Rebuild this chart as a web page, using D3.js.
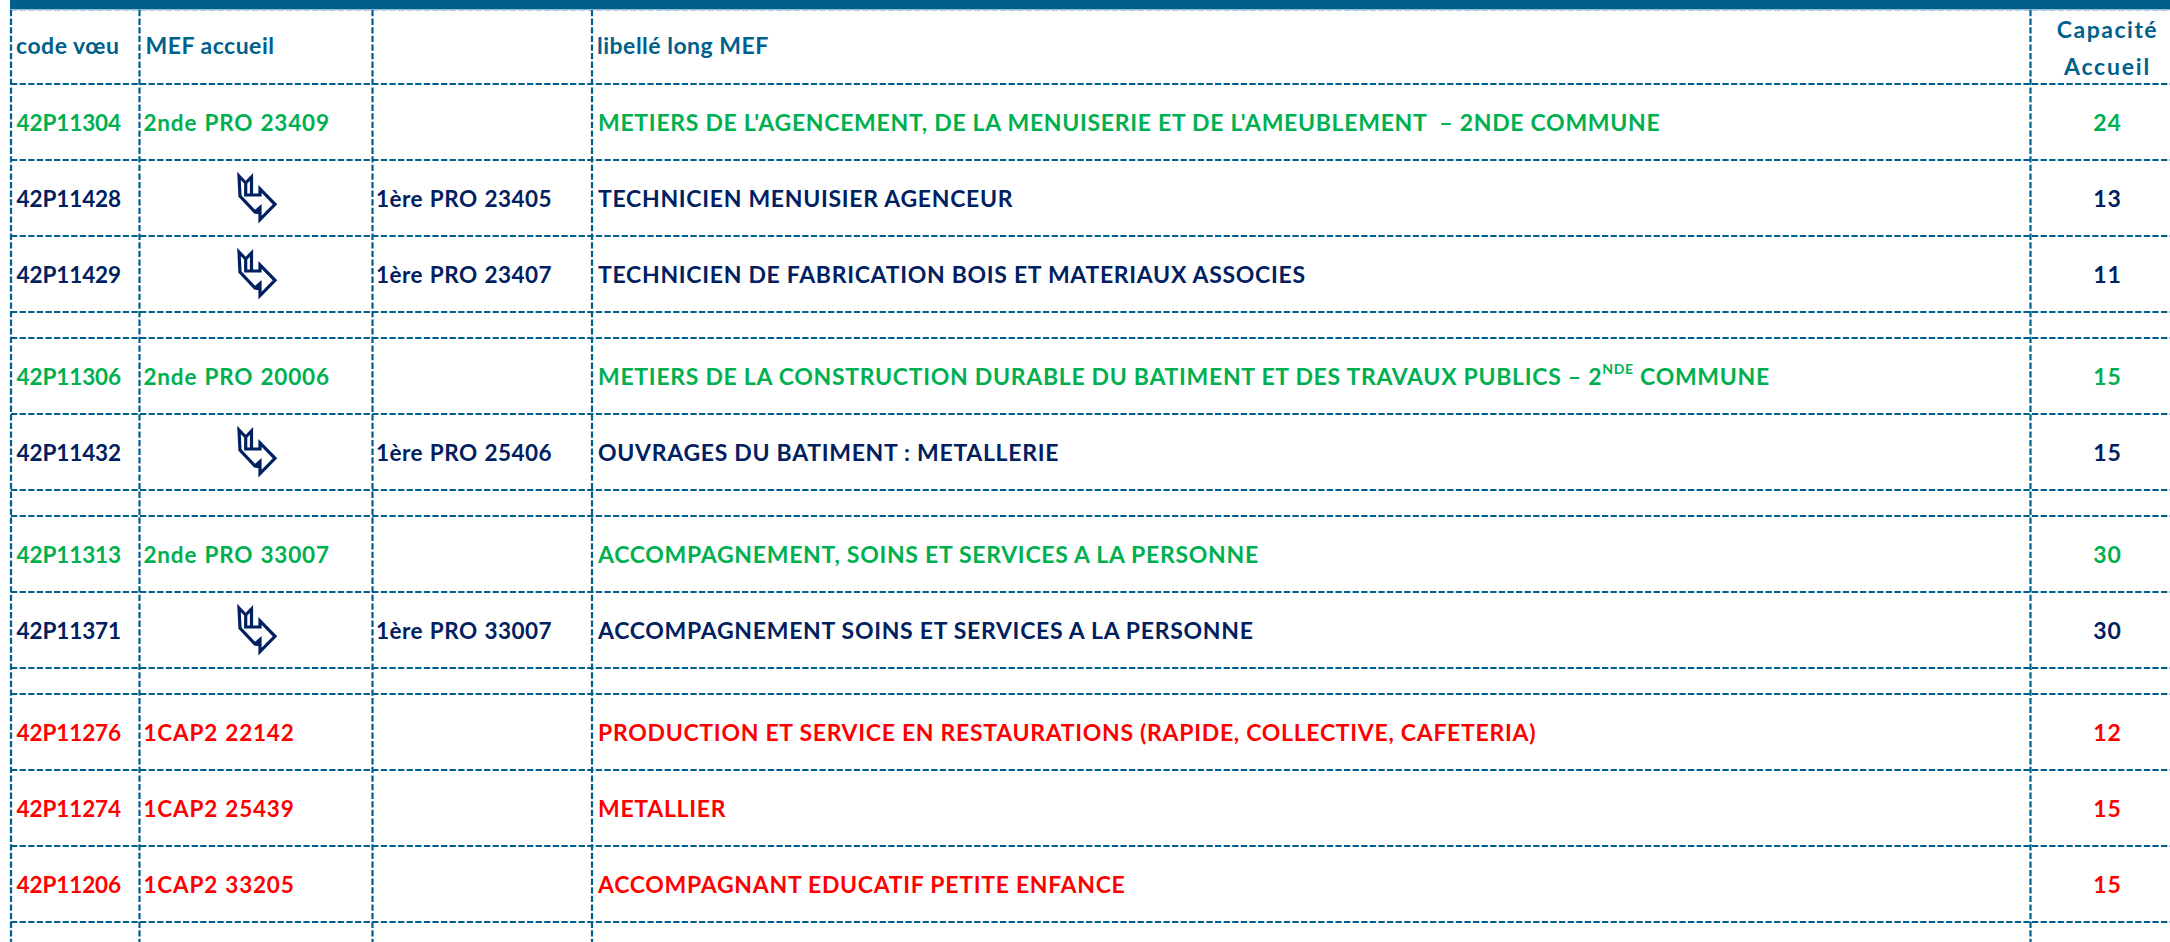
<!DOCTYPE html>
<html><head><meta charset="utf-8">
<script src="https://cdn.jsdelivr.net/npm/d3@7"></script>
<style>html,body{margin:0;padding:0;background:#fff}svg{display:block}</style>
</head><body><div id="c"></div>
<script>
const headers = ["code vœu","MEF accueil","","libellé long MEF"];
const capHeader = ["Capacité","Accueil"];
const rowKinds = ["r","r","r","s","r","r","s","r","r","s","r","r","r","s"];
const codes = ["42P11304","42P11428","42P11429",null,"42P11306","42P11432",null,"42P11313","42P11371",null,"42P11276","42P11274","42P11206",null];
const mefAccueil = ["2nde PRO 23409",null,null,null,"2nde PRO 20006",null,null,"2nde PRO 33007",null,null,"1CAP2 22142","1CAP2 25439","1CAP2 33205",null];
const mefFirst = [null,"1ère PRO 23405","1ère PRO 23407",null,null,"1ère PRO 25406",null,null,"1ère PRO 33007",null,null,null,null,null];
const labels = ["METIERS DE L'AGENCEMENT, DE LA MENUISERIE ET DE L'AMEUBLEMENT  – 2NDE COMMUNE","TECHNICIEN MENUISIER AGENCEUR","TECHNICIEN DE FABRICATION BOIS ET MATERIAUX ASSOCIES",null,"METIERS DE LA CONSTRUCTION DURABLE DU BATIMENT ET DES TRAVAUX PUBLICS – 2|NDE| COMMUNE","OUVRAGES DU BATIMENT : METALLERIE",null,"ACCOMPAGNEMENT, SOINS ET SERVICES A LA PERSONNE","ACCOMPAGNEMENT SOINS ET SERVICES A LA PERSONNE",null,"PRODUCTION ET SERVICE EN RESTAURATIONS (RAPIDE, COLLECTIVE, CAFETERIA)","METALLIER","ACCOMPAGNANT EDUCATIF PETITE ENFANCE",null];
const capacities = [24,13,11,null,15,15,null,30,30,null,12,15,15,null];
const groups = ["g","n","n",null,"g","n",null,"g","n",null,"x","x","x",null];

const W=2170,H=942, BLUE="#005f8b";
const colorOf=d3.scaleOrdinal().domain(["g","n","x"]).range(["#00b050","#002060","#ff0000"]);
const FONT="Lato, 'Open Sans', sans-serif";
const svg=d3.select("#c").append("svg").attr("width",W).attr("height",H).style("font-family",FONT);

const colX=[11,139.5,372.5,592,2030.5];
const unit={h:74,r:76,s:26};
const yStart=10;
let cum=[0,unit.h]; rowKinds.forEach(k=>cum.push(cum[cum.length-1]+unit[k]));
const y=d3.scaleLinear().domain([0,1]).range([yStart,yStart+1]);

svg.append("rect").attr("x",10).attr("y",0).attr("width",W).attr("height",9.5).attr("fill",BLUE);

const DASH="6.3 2.3";
const hY=cum.slice(1,-1);
const grid=svg.append("g");
grid.append("line").attr("x1",11).attr("x2",W).attr("y1",y(0)+.3).attr("y2",y(0)+.3).attr("stroke","#a9cfe4").attr("stroke-width",1.5).attr("stroke-dasharray",DASH);
grid.selectAll("line.h").data(hY).join("line").attr("class","h")
 .attr("x1",11).attr("x2",W).attr("y1",d=>y(d)).attr("y2",d=>y(d)).attr("stroke",BLUE).attr("stroke-width",2.2).attr("stroke-dasharray",DASH);
grid.selectAll("line.v").data(colX).join("line").attr("class","v")
 .attr("x1",d=>d).attr("x2",d=>d).attr("y1",y(0)).attr("y2",H).attr("stroke",BLUE).attr("stroke-width",2.2).attr("stroke-dasharray",DASH);

const txt=(g,xp,yp,t,fill,o={})=>g.append("text").attr("x",xp).attr("y",yp).attr("fill",fill)
  .attr("font-size",o.fs||23).attr("font-weight",o.w||700).attr("letter-spacing",o.ls==null?0:o.ls).attr("word-spacing",o.ws||0)
  .attr("text-anchor",o.a||"start").attr("dominant-baseline","central").style("white-space","pre").text(t);

const head=svg.append("g");
const hMid=y(unit.h/2)-2;
const pad=[5,6,0,5];
const hOpt={fs:23,w:700,ls:0.5};
headers.forEach((h,i)=>{ if(h) txt(head,colX[i]+pad[i],hMid,h,BLUE,hOpt); });
const capX=2107.5;
txt(head,capX,y(18)+1,capHeader[0],BLUE,{...hOpt,a:"middle",ls:1.5});
txt(head,capX,y(55)+1,capHeader[1],BLUE,{...hOpt,a:"middle",ls:1.8});

const arrow=(g,cx,cy,col)=>{
  const p=d3.path();
  p.moveTo(-17,-22); p.lineTo(-10.3,-15); p.lineTo(-4.5,-21); p.lineTo(-4.5,-3);
  p.lineTo(4,-3); p.lineTo(4,-9); p.lineTo(19,6.3); p.lineTo(4,21.5); p.lineTo(4,15);
  p.lineTo(-1,14); p.lineTo(-16,-2); p.closePath();
  p.moveTo(-10.3,-15); p.lineTo(-10.3,-3); p.lineTo(-4.5,-3);
  p.moveTo(-1,14); p.lineTo(4,9.5); p.lineTo(4,15);
  g.append("path").attr("transform",`translate(${cx},${cy})`).attr("d",p.toString()).attr("fill","none").attr("stroke",col).attr("stroke-width",3.2).attr("stroke-linejoin","miter");
};

const body=svg.append("g");
rowKinds.forEach((k,i)=>{
  if(k!=="r") return;
  const cy=y(cum[i+1]+unit.r/2);
  const col=colorOf(groups[i]);
  txt(body,colX[0]+5.5,cy,codes[i],col,{fs:22.5,ls:-0.1});
  if(mefAccueil[i]) txt(body,colX[1]+4,cy,mefAccueil[i],col,{fs:22.5,ls:0.8,ws:1});
  else arrow(body,256,cy,col);
  if(mefFirst[i]) txt(body,colX[2]+3.5,cy,mefFirst[i],col,{fs:22.5,ls:0.45,ws:1});
  const parts=labels[i].split("|");
  const t=txt(body,colX[3]+6,cy,"",col,{ls:0.7});
  parts.forEach((p,j)=>{
    const s=t.append("tspan").text(p);
    if(j===1){s.attr("font-size",14).attr("dy",-8);}
    if(j===2){s.attr("dy",8);}
  });
  txt(body,capX,cy,capacities[i],col,{a:"middle",ls:0.8});
});
</script></body></html>
